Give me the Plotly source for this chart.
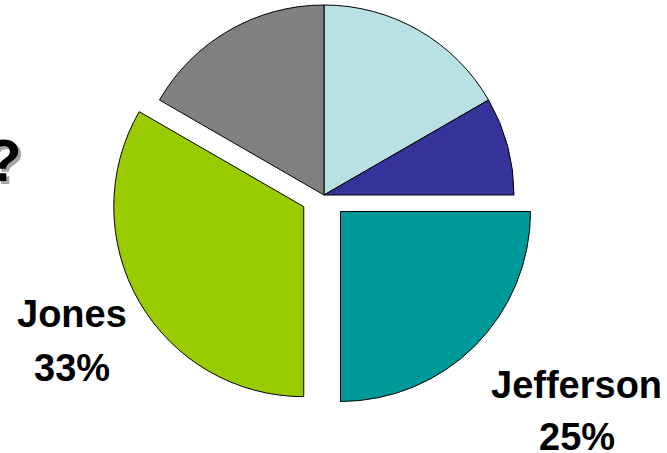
import math
import plotly.graph_objects as go

# ---- data ----
labels = ["Candidate A", "Candidate B", "Jefferson", "Jones", "Candidate C"]
values = [2, 1, 3, 4, 2]
colors = ["#B9E0E3", "#333399", "#009999", "#99CC00", "#808080"]
pulls = [0, 0, 0.123, 0.123, 0]
labelled = ["Jones", "Jefferson"]

# ---- layout geometry (pixels) ----
W, H = 667, 453
R = 190.0
CX, CY = 324.0, 195.0
CLEAR = "rgba(0,0,0,0)"


def domain(cx, cy):
    return dict(x=[(cx - R) / W, (cx + R) / W], y=[1 - (cy + R) / H, 1 - (cy - R) / H])


total = sum(values)
fig = go.Figure()


def add_pie(visible_idx, cx, cy):
    cols = [colors[i] if i in visible_idx else CLEAR for i in range(len(values))]
    lw = [1 if i in visible_idx else 0 for i in range(len(values))]
    fig.add_trace(go.Pie(
        labels=labels, values=values, sort=False, direction="clockwise", rotation=0,
        marker=dict(colors=cols, line=dict(color="#000000", width=lw)),
        textinfo="none", hoverinfo="skip", showlegend=False,
        domain=domain(cx, cy),
    ))


# unpulled slices
add_pie([i for i, p in enumerate(pulls) if p == 0], CX, CY)

# pulled slices: translate along mid-angle (clockwise from 12 o'clock, screen y down)
cum = 0
for i, v in enumerate(values):
    mid = (cum + v / 2) / total * 2 * math.pi
    cum += v
    if pulls[i] > 0:
        d = pulls[i] * R
        add_pie([i], CX + d * math.sin(mid), CY - d * math.cos(mid))

annotations = []
font = dict(family="Liberation Sans, Arial, sans-serif", size=38, color="#000000")
label_pos = {"Jones": ((72, 314), (72, 368)), "Jefferson": ((576, 385), (577, 437))}
for name in labelled:
    i = labels.index(name)
    pct = f"{round(values[i] / total * 100)}%"
    (nx, ny), (px, py) = label_pos[name]
    annotations.append(dict(text=f"<b>{name}</b>", x=nx / W, y=1 - ny / H, xref="paper", yref="paper",
                            showarrow=False, xanchor="center", yanchor="middle", font=font))
    annotations.append(dict(text=f"<b>{pct}</b>", x=px / W, y=1 - py / H, xref="paper", yref="paper",
                            showarrow=False, xanchor="center", yanchor="middle", font=font))

qfont = dict(family="Liberation Sans, Arial, sans-serif", size=60)
annotations.append(dict(text="<b>?</b>", x=27 / W, y=1 - 163 / H, xref="paper", yref="paper",
                        showarrow=False, xanchor="right", yanchor="middle",
                        font=dict(qfont, color="#A6A6A6")))
annotations.append(dict(text="<b>?</b>", x=24 / W, y=1 - 160 / H, xref="paper", yref="paper",
                        showarrow=False, xanchor="right", yanchor="middle",
                        font=dict(qfont, color="#000000")))

fig.update_layout(
    width=W, height=H, margin=dict(l=0, r=0, t=0, b=0),
    paper_bgcolor="white", plot_bgcolor="white",
    annotations=annotations,
)
fig.write_html("out.html")
